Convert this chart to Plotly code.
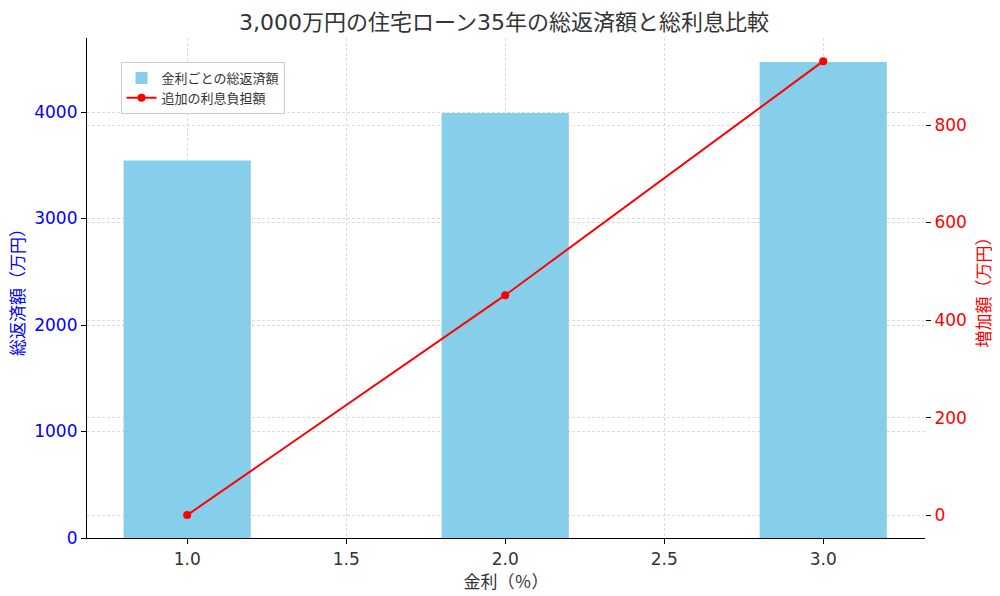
import plotly.graph_objects as go

rates = [1.0, 2.0, 3.0]
total_repayment = [3545, 3990, 4470]
interest_increase = [0, 451, 931]

title_text = "3,000万円の住宅ローン35年の総返済額と総利息比較"
bar_name = "金利ごとの総返済額"
line_name = "追加の利息負担額"
x_title = "金利（％）"
y1_title = "総返済額（万円）"
y2_title = "増加額（万円）"

font_family = "DejaVu Sans, Noto Sans CJK JP, sans-serif"

fig = go.Figure()
fig.add_trace(go.Bar(
    x=rates, y=total_repayment, name=bar_name, width=0.4,
    marker=dict(color="#87CEEB", line=dict(width=0)), yaxis="y",
))
fig.add_trace(go.Scatter(
    x=rates, y=interest_increase, name=line_name, mode="lines+markers",
    line=dict(color="#FF0000", width=2), marker=dict(color="#FF0000", size=8),
    yaxis="y2",
))

grid = dict(showgrid=True, gridcolor="rgba(205,205,205,0.7)", griddash="3px,2px", gridwidth=1)

fig.update_layout(
    width=992, height=588,
    margin=dict(l=79, r=75, t=30, b=58, autoexpand=False),
    paper_bgcolor="white", plot_bgcolor="white",
    font=dict(family=font_family, size=17, color="#333333"),
    title=dict(text=title_text, x=0.5, xanchor="center", y=1 - 14 / 588, yanchor="middle",
               font=dict(size=22, color="#333333")),
    showlegend=True,
    legend=dict(x=0.04, y=0.952, xanchor="left", yanchor="top",
                bgcolor="rgba(255,255,255,0.85)", bordercolor="#CCCCCC", borderwidth=1,
                font=dict(size=13, color="#333333"), tracegroupgap=2),
    xaxis=dict(range=[0.685, 3.32], tickvals=[1.0, 1.5, 2.0, 2.5, 3.0],
               ticktext=["1.0", "1.5", "2.0", "2.5", "3.0"], automargin=False,
               showline=True, linecolor="black", linewidth=1.2, ticks="outside",
               ticklen=5, tickcolor="black", zeroline=False,
               title=dict(text=x_title, font=dict(size=17, color="#333333"), standoff=8),
               tickfont=dict(size=17, color="#333333"), **grid),
    yaxis=dict(range=[0, 4695], tickvals=[0, 1000, 2000, 3000, 4000], automargin=False,
               showline=True, linecolor="black", linewidth=1.2, ticks="outside",
               ticklen=5, tickcolor="black", zeroline=False,
               title=dict(text=y1_title, font=dict(size=17, color="blue"), standoff=10),
               tickfont=dict(size=17, color="blue"), **grid),
    yaxis2=dict(range=[-47, 978.5], tickvals=[0, 200, 400, 600, 800], automargin=False,
                overlaying="y", side="right", showline=False, ticks="outside",
                ticklen=5, tickcolor="black", zeroline=False,
                title=dict(text=y2_title, font=dict(size=17, color="red"), standoff=12),
                tickfont=dict(size=17, color="red"), **grid),
)

fig.write_html("out.html")
